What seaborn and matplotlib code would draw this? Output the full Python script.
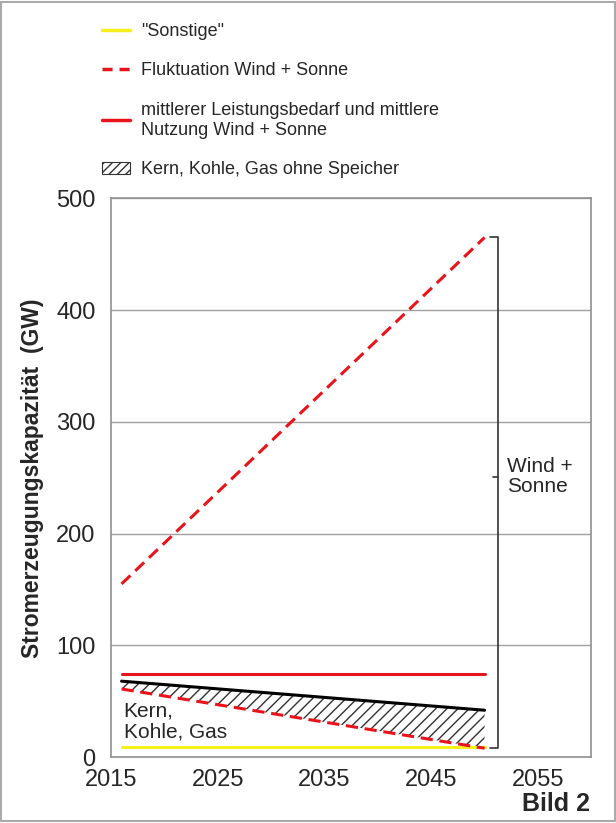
import seaborn as sns
import pandas as pd
import numpy as np
import matplotlib.pyplot as plt
from matplotlib.lines import Line2D
from matplotlib.patches import Patch

years = [2016, 2050]
sonstige = [9, 9]
fluktuation_oben = [155, 465]
fluktuation_unten = [61, 8]
mittel = [74, 74]
konventionell = [68, 42]

sns.set_style("white")
plt.rcParams['font.family'] = ['Liberation Sans', 'DejaVu Sans']

fig = plt.figure(figsize=(6.16, 8.23), dpi=100)
ax = fig.add_axes([0.180, 0.080, 0.780, 0.679])

df = pd.DataFrame({'Jahr': years, 'sonstige': sonstige, 'f_oben': fluktuation_oben,
                   'f_unten': fluktuation_unten, 'mittel': mittel, 'konv': konventionell})

ax.fill_between(df['Jahr'], df['f_unten'], df['konv'], facecolor='white',
                edgecolor='#333333', hatch='///', linewidth=0)
sns.lineplot(data=df, x='Jahr', y='sonstige', color='#f5f01a', lw=2.2, ax=ax)
sns.lineplot(data=df, x='Jahr', y='konv', color='black', lw=2.2, ax=ax)
sns.lineplot(data=df, x='Jahr', y='mittel', color='#e8141b', lw=2.2, ax=ax)
sns.lineplot(data=df, x='Jahr', y='f_oben', color='#e8141b', lw=2.2, ax=ax)
ax.lines[-1].set_linestyle((0, (4, 2.2)))
sns.lineplot(data=df, x='Jahr', y='f_unten', color='#e8141b', lw=2.2, ax=ax)
ax.lines[-1].set_linestyle((0, (4, 2.2)))

ax.set_xlim(2015, 2060)
ax.set_ylim(0, 500)
ax.set_xticks([2015, 2025, 2035, 2045, 2055])
ax.set_yticks([0, 100, 200, 300, 400, 500])
ax.tick_params(axis='both', labelsize=17, length=5, color='#999999', direction='out')
ax.tick_params(axis='y', pad=6)
ax.yaxis.grid(True, color='#a0a0a0', lw=1)
for s in ax.spines.values():
    s.set_color('#909090')
    s.set_linewidth(1.2)
ax.set_xlabel('')
ax.set_ylabel('Stromerzeugungskapazität  (GW)', fontsize=16.5, fontweight='bold', labelpad=9)

# Klammer Wind + Sonne
bx = 2051.3
ax.plot([2050.5, bx, bx, 2050.5], [465, 465, 8, 8], color='#333333', lw=1.2, clip_on=False)
ax.plot([bx, bx - 0.5], [251, 251], color='#333333', lw=1.2)
ax.text(bx + 0.8, 251, 'Wind +\nSonne', fontsize=15, va='center', ha='left', linespacing=1.05)
ax.text(2016.2, 32, 'Kern,\nKohle, Gas', fontsize=15, va='center', ha='left', linespacing=1.1)

handles = [Line2D([], [], color='#f5f01a', lw=2.5),
           Line2D([], [], color='#e8141b', lw=2.5, ls=(0, (2.9, 2))),
           Line2D([], [], color='#e8141b', lw=2.5),
           Patch(facecolor='white', edgecolor='#333333', hatch='////', lw=0.8)]
labels = ['"Sonstige"', 'Fluktuation Wind + Sonne',
          'mittlerer Leistungsbedarf und mittlere\nNutzung Wind + Sonne',
          'Kern, Kohle, Gas ohne Speicher']
fig.legend(handles, labels, loc='upper left', bbox_to_anchor=(0.139, 0.992), frameon=False,
           fontsize=13, handlelength=1.55, handletextpad=0.6, labelspacing=1.25)

fig.text(0.958, 0.008, 'Bild 2', fontsize=18, fontweight='bold', ha='right', va='bottom')
fig.patches.append(plt.Rectangle((0.002, 0.002), 0.996, 0.996, transform=fig.transFigure,
                                 fill=False, edgecolor='#aaaaaa', lw=1.5))

fig.savefig('out.png', dpi=100)
